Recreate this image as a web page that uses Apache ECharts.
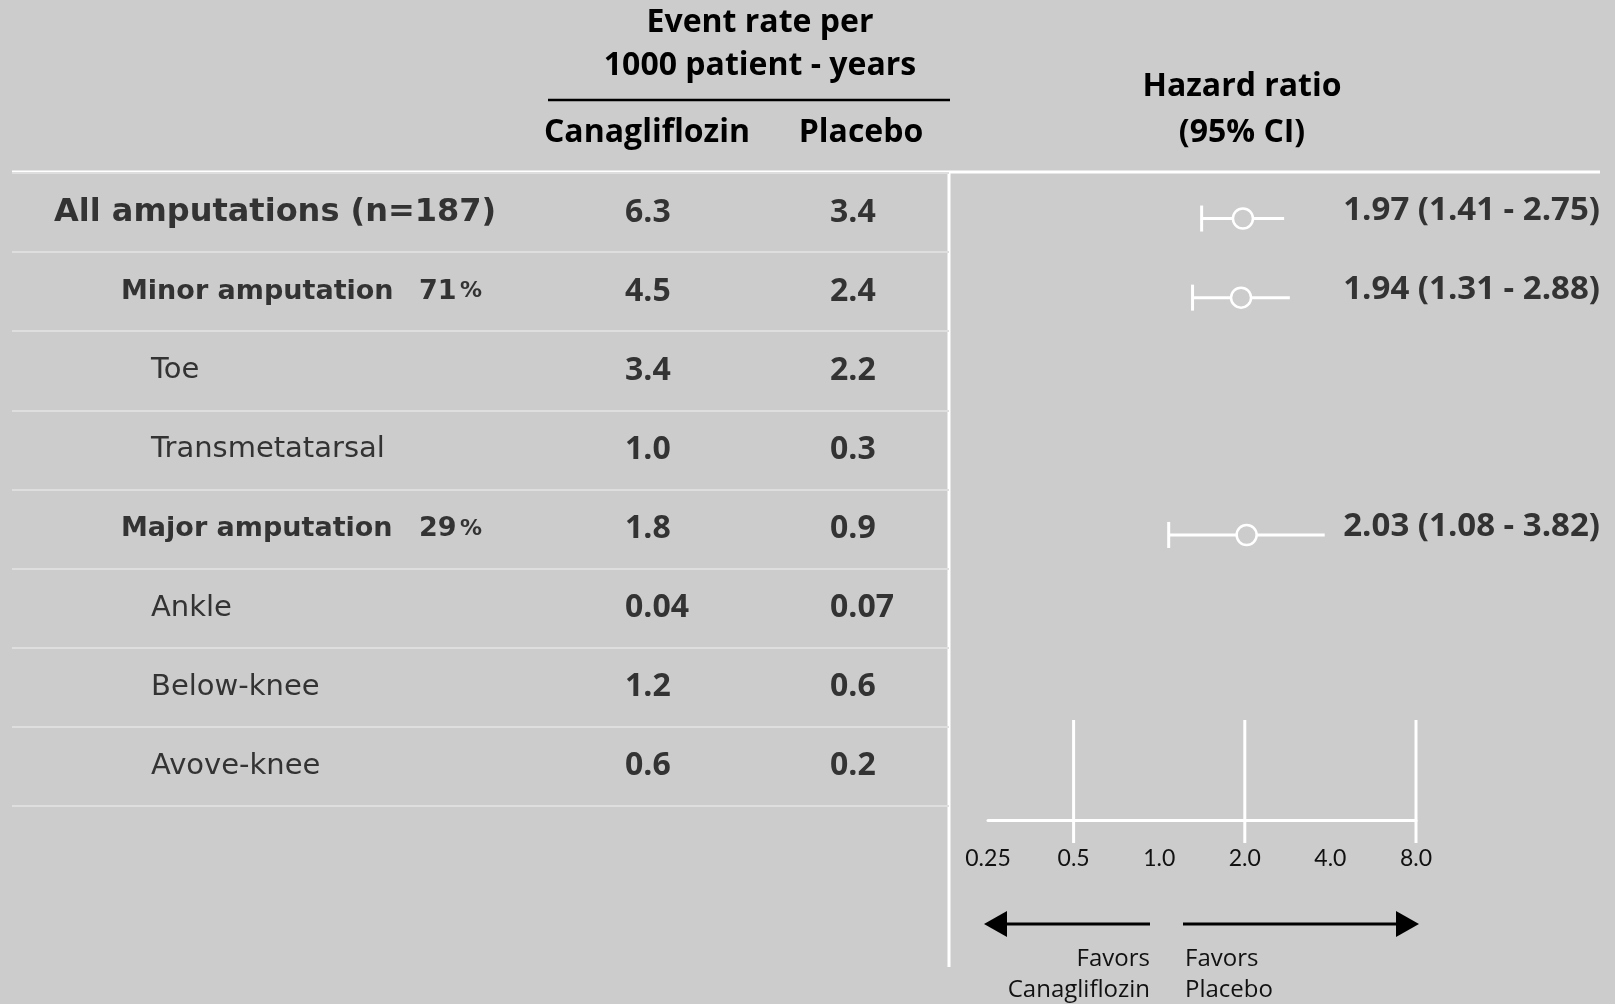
<!DOCTYPE html>
<html>
<head>
<meta charset="utf-8">
<script src="https://cdn.jsdelivr.net/npm/echarts/dist/echarts.min.js"></script>
<style>
html,body{margin:0;padding:0;background:#cccccc;}
#c{width:1615px;height:1004px;}
</style>
</head>
<body>
<div id="c"></div>
<script>
// ---- data ----
const rowLabels = ['All amputations (n=187)', 'Minor amputation', 'Toe', 'Transmetatarsal', 'Major amputation', 'Ankle', 'Below-knee', 'Avove-knee'];
const rowLevel = [0, 1, 2, 2, 1, 2, 2, 2];
const rowShare = ['', '71', '', '', '29', '', '', ''];
const canaRate = [6.3, 4.5, 3.4, 1.0, 1.8, 0.04, 1.2, 0.6];
const placeboRate = [3.4, 2.4, 2.2, 0.3, 0.9, 0.07, 0.6, 0.2];
const hrValue = [1.97, 1.94, null, null, 2.03, null, null, null];
const hrLow = [1.41, 1.31, null, null, 1.08, null, null, null];
const hrHigh = [2.75, 2.88, null, null, 3.82, null, null, null];
const hrTicks = [0.25, 0.5, 1, 2, 4, 8];
const hrTickLabels = ['0.25', '0.5', '1.0', '2.0', '4.0', '8.0'];
const refLines = [0.5, 2, 8];

// ---- styling ----
const BG = '#cccccc';
const TXT = '#333333';
const LABEL_FONT = '"DejaVu Sans"';
const HEAD_FONT = '"Open Sans"';
const labelX = [54, 121, 151];
const labelFont = ['bold 32px ' + LABEL_FONT, 'bold 27px ' + LABEL_FONT, 'normal 29px ' + LABEL_FONT];
const shareX = 419;
const canaX = 625, placeboX = 830;
const valueFont = 'bold 32px ' + HEAD_FONT;
const headFont = 'bold 32px ' + HEAD_FONT;
const fmtRate = v => (v < 0.1 ? v.toFixed(2) : v.toFixed(1));

function txt(x, y, text, font, fill, align) {
  return {
    type: 'text', silent: true,
    style: { x: x, y: y, text: text, font: font, fill: fill,
      textAlign: align, align: align, textVerticalAlign: 'middle', verticalAlign: 'middle' }
  };
}

const chart = echarts.init(document.getElementById('c'), null, { renderer: 'canvas' });

const tableData = rowLabels.map((_, i) => [canaX, i]);
const forestData = [];
hrValue.forEach((v, i) => { if (v != null) forestData.push([v, i, hrLow[i], hrHigh[i]]); });

const option = {
  backgroundColor: BG,
  animation: false,
  grid: [
    { left: 12, top: 173, width: 937, height: 632.8 },
    { left: 988, top: 173, width: 428, height: 632.8 },
    { left: 988, top: 720, width: 428, height: 100 }
  ],
  xAxis: [
    { gridIndex: 0, type: 'value', min: 12, max: 949, show: false },
    { gridIndex: 1, type: 'log', logBase: 2, min: 0.25, max: 8, show: false },
    { gridIndex: 2, type: 'log', logBase: 2, min: 0.25, max: 8,
      splitNumber: 5,
      axisLine: { show: true, lineStyle: { color: '#ffffff', width: 3 } },
      axisTick: { show: false },
      splitLine: { show: false },
      minorTick: { show: false },
      axisLabel: {
        show: true, margin: 27, color: '#111111', fontSize: 23, fontFamily: 'Lato',
        showMinLabel: true, showMaxLabel: true,
        formatter: function (v) {
          for (let k = 0; k < hrTicks.length; k++) {
            if (Math.abs(hrTicks[k] - v) < 1e-6) return hrTickLabels[k];
          }
          return '';
        }
      }
    }
  ],
  yAxis: [
    { gridIndex: 0, type: 'category', data: rowLabels, inverse: true,
      axisLine: { show: false }, axisTick: { show: false }, axisLabel: { show: false },
      splitLine: { show: true, lineStyle: { color: '#dedede', width: 2 } } },
    { gridIndex: 1, type: 'category', data: rowLabels, inverse: true, show: false },
    { gridIndex: 2, type: 'value', min: 0, max: 1, show: false }
  ],
  series: [
    {
      type: 'custom', xAxisIndex: 0, yAxisIndex: 0, clip: false, silent: true,
      data: tableData,
      renderItem: function (params, api) {
        const i = params.dataIndex;
        const yc = api.coord([canaX, i])[1];
        const lvl = rowLevel[i];
        const lx = api.coord([labelX[lvl], i])[0];
        const children = [
          txt(lx, yc, rowLabels[i], labelFont[lvl], TXT, 'left'),
          txt(api.coord([canaX, i])[0], yc, fmtRate(canaRate[i]), valueFont, TXT, 'left'),
          txt(api.coord([placeboX, i])[0], yc, fmtRate(placeboRate[i]), valueFont, TXT, 'left')
        ];
        if (rowShare[i]) {
          children.push({
            type: 'text', silent: true,
            style: {
              x: api.coord([shareX, i])[0], y: yc,
              text: '{n|' + rowShare[i] + '} {p|%}',
              textAlign: 'left', align: 'left', textVerticalAlign: 'middle', verticalAlign: 'middle',
              rich: {
                n: { fontFamily: 'DejaVu Sans', fontWeight: 'bold', fontSize: 27, fill: TXT, color: TXT },
                p: { fontFamily: 'DejaVu Sans', fontWeight: 'bold', fontSize: 22, fill: TXT, color: TXT }
              }
            }
          });
        }
        return { type: 'group', children: children };
      }
    },
    {
      type: 'custom', xAxisIndex: 1, yAxisIndex: 1, clip: false, silent: true,
      data: forestData,
      renderItem: function (params, api) {
        const v = api.value(0), i = api.value(1), lo = api.value(2), hi = api.value(3);
        const pc = api.coord([v, i]);
        const pl = api.coord([lo, i]);
        const ph = api.coord([hi, i]);
        const y = pc[1] + 6;
        return {
          type: 'group',
          children: [
            { type: 'line', shape: { x1: pl[0], y1: y, x2: ph[0], y2: y }, style: { stroke: '#ffffff', lineWidth: 3 } },
            { type: 'line', shape: { x1: pl[0], y1: y - 13, x2: pl[0], y2: y + 13 }, style: { stroke: '#ffffff', lineWidth: 3 } },
            { type: 'circle', shape: { cx: pc[0], cy: y, r: 10 }, style: { fill: BG, stroke: '#ffffff', lineWidth: 2.5 } },
            txt(1600, pc[1] - 2, v.toFixed(2) + ' (' + lo.toFixed(2) + ' - ' + hi.toFixed(2) + ')', 'bold 33px ' + HEAD_FONT, TXT, 'right')
          ]
        };
      }
    },
    {
      type: 'custom', xAxisIndex: 2, yAxisIndex: 2, clip: false, silent: true,
      data: refLines.map(v => [v, 1]),
      renderItem: function (params, api) {
        const v = api.value(0);
        const t = api.coord([v, 1]);
        const b = api.coord([v, 0]);
        return { type: 'line', shape: { x1: t[0], y1: t[1], x2: b[0], y2: b[1] + 23 }, style: { stroke: '#ffffff', lineWidth: 3 } };
      }
    }
  ],
  graphic: [
    txt(760, 23, 'Event rate per', headFont, '#000000', 'center'),
    txt(760, 66, '1000 patient - years', headFont, '#000000', 'center'),
    { type: 'line', silent: true, shape: { x1: 548, y1: 100, x2: 950, y2: 100 }, style: { stroke: '#000000', lineWidth: 2.5 } },
    txt(647, 133, 'Canagliflozin', headFont, '#000000', 'center'),
    txt(861, 133, 'Placebo', headFont, '#000000', 'center'),
    txt(1242, 87, 'Hazard ratio', headFont, '#000000', 'center'),
    txt(1242, 133, '(95% CI)', headFont, '#000000', 'center'),
    { type: 'line', silent: true, shape: { x1: 12, y1: 172, x2: 1600, y2: 172 }, style: { stroke: '#ffffff', lineWidth: 3 } },
    { type: 'line', silent: true, shape: { x1: 949, y1: 172, x2: 949, y2: 967 }, style: { stroke: '#ffffff', lineWidth: 3 } },
    { type: 'line', silent: true, shape: { x1: 1150, y1: 924, x2: 1004, y2: 924 }, style: { stroke: '#000000', lineWidth: 3 } },
    { type: 'polygon', silent: true, shape: { points: [[984, 924], [1007, 911], [1007, 937]] }, style: { fill: '#000000' } },
    { type: 'line', silent: true, shape: { x1: 1183, y1: 924, x2: 1399, y2: 924 }, style: { stroke: '#000000', lineWidth: 3 } },
    { type: 'polygon', silent: true, shape: { points: [[1419, 924], [1396, 911], [1396, 937]] }, style: { fill: '#000000' } },
    txt(1150, 959, 'Favors', 'normal 24px ' + HEAD_FONT, '#111111', 'right'),
    txt(1150, 990, 'Canagliflozin', 'normal 24px ' + HEAD_FONT, '#111111', 'right'),
    txt(1185, 959, 'Favors', 'normal 24px ' + HEAD_FONT, '#111111', 'left'),
    txt(1185, 990, 'Placebo', 'normal 24px ' + HEAD_FONT, '#111111', 'left')
  ]
};
chart.setOption(option);
</script>
</body>
</html>
